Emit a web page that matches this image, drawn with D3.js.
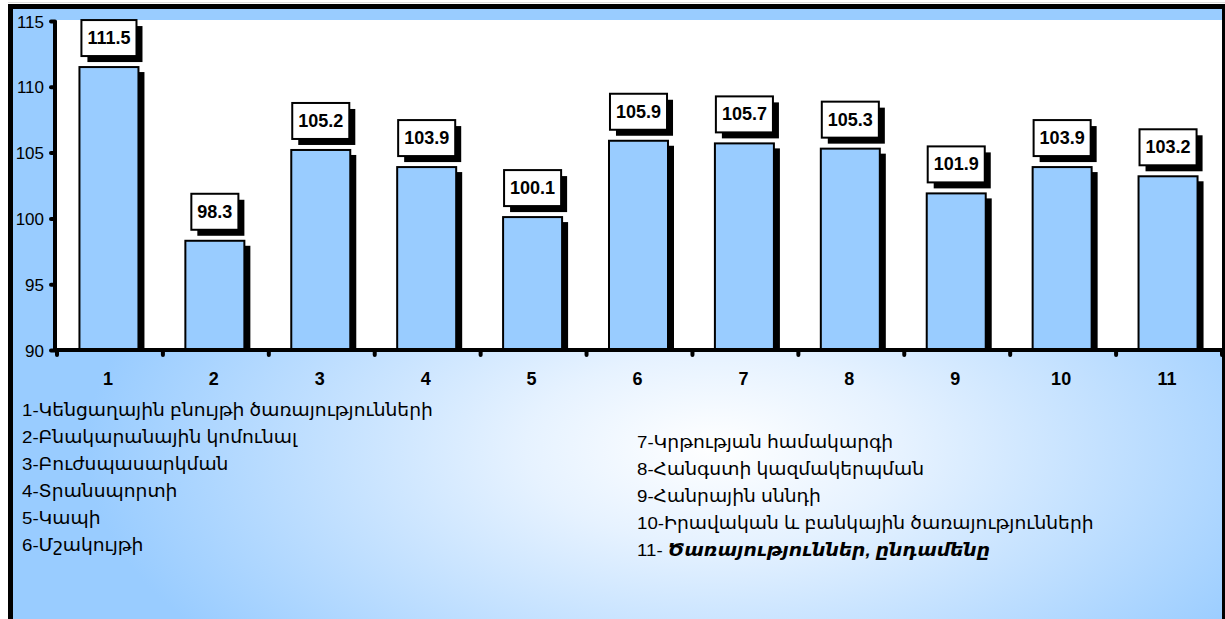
<!DOCTYPE html>
<html>
<head>
<meta charset="utf-8">
<script src="https://cdn.jsdelivr.net/npm/d3@7"></script>
<style>
  body { margin: 0; background: #fff; }
  svg { display: block; }
</style>
</head>
<body>
<div id="app"></div>
<script>
// data
const categories = ["1", "2", "3", "4", "5", "6", "7", "8", "9", "10", "11"];
const values = [111.5, 98.3, 105.2, 103.9, 100.1, 105.9, 105.7, 105.3, 101.9, 103.9, 103.2];
const yTicks = [90, 95, 100, 105, 110, 115];
const legendLeft = [
  "1-Կենցաղային բնույթի ծառայությունների",
  "2-Բնակարանային կոմունալ",
  "3-Բուժսպասարկման",
  "4-Տրանսպորտի",
  "5-Կապի",
  "6-Մշակույթի"
];
const legendRight = [
  "7-Կրթության համակարգի",
  "8-Հանգստի կազմակերպման",
  "9-Հանրային սննդի",
  "10-Իրավական և բանկային ծառայությունների"
];
const legendLastNum = "11- ";
const legendLastText = "Ծառայություններ, ընդամենը";

// sizing
const W = 1225, H = 619;
const plot = {left: 57, right: 1222, top: 20, bottom: 350};

const svg = d3.select("#app").append("svg")
    .attr("width", W)
    .attr("height", H);

const defs = svg.append("defs");
const grad = defs.append("radialGradient")
    .attr("id", "bg")
    .attr("cx", 0.58).attr("cy", 0.72).attr("r", 0.52);
grad.append("stop").attr("offset", "0%").attr("stop-color", "#ffffff");
grad.append("stop").attr("offset", "30%").attr("stop-color", "#e6f2ff");
grad.append("stop").attr("offset", "100%").attr("stop-color", "#99ccff");

// outer panel
svg.append("line")
    .attr("x1", 8).attr("x2", W).attr("y1", 2.5).attr("y2", 2.5)
    .attr("stroke", "#dddddd").attr("stroke-width", 1);
svg.append("rect")
    .attr("x", 8).attr("y", 4)
    .attr("width", W - 8).attr("height", H - 4)
    .attr("fill", "#000");
svg.append("rect")
    .attr("x", 13).attr("y", 9)
    .attr("width", 1222 - 13).attr("height", H - 9)
    .attr("fill", "url(#bg)");

// plot area
svg.append("rect")
    .attr("x", plot.left).attr("y", plot.top)
    .attr("width", plot.right - plot.left).attr("height", plot.bottom - plot.top)
    .attr("fill", "#fff");

// scales
const x = d3.scaleBand()
    .domain(categories)
    .range([plot.left, plot.right])
    .paddingInner(0)
    .paddingOuter(0);

const y = d3.scaleLinear()
    .domain([90, 115])
    .range([plot.bottom, 21]);

const barW = 59;
const shadow = 6;

// bar shadows
svg.append("g")
    .selectAll("rect")
    .data(values)
    .enter().append("rect")
        .attr("x", (d, i) => x(categories[i]) + x.bandwidth() / 2 - barW / 2 - 1 + shadow)
        .attr("y", d => y(d) + 5)
        .attr("width", barW)
        .attr("height", d => plot.bottom - y(d) - 5)
        .attr("fill", "#000");

// bars
svg.append("g")
    .selectAll("rect")
    .data(values)
    .enter().append("rect")
        .attr("x", (d, i) => x(categories[i]) + x.bandwidth() / 2 - barW / 2 - 1)
        .attr("y", d => y(d))
        .attr("width", barW)
        .attr("height", d => plot.bottom - y(d))
        .attr("fill", "#99ccff")
        .attr("stroke", "#000")
        .attr("stroke-width", 2);

// y axis
const yAxis = svg.append("g")
    .attr("transform", `translate(${plot.left - 2},0)`)
    .call(d3.axisLeft(y).tickValues(yTicks).tickSize(4).tickSizeOuter(0).tickFormat(d3.format("d")));
yAxis.select(".domain").attr("stroke", "#000").attr("stroke-width", 4)
    .attr("d", `M0,${y(115)}V${plot.bottom + 2}`);
yAxis.selectAll(".tick line").attr("stroke", "#000").attr("stroke-width", 4).attr("stroke-linecap", "round");
yAxis.selectAll(".tick text")
    .attr("x", -11)
    .attr("dy", "0.36em")
    .style("font-family", "Arial, 'Liberation Sans', sans-serif")
    .style("font-size", "17px")
    .attr("fill", "#000");

// x axis
const xAxis = svg.append("g")
    .attr("transform", `translate(0,${plot.bottom})`)
    .call(d3.axisBottom(x).tickSize(0));
xAxis.select(".domain").attr("stroke", "#000").attr("stroke-width", 4)
    .attr("d", `M${plot.left - 2},0H${plot.right}`);
xAxis.selectAll(".tick text")
    .attr("y", 35)
    .attr("dy", 0)
    .attr("dx", -2)
    .style("font-family", "Arial, 'Liberation Sans', sans-serif")
    .style("font-size", "18px")
    .style("font-weight", "bold")
    .attr("fill", "#000");

// x tick dots at category boundaries
const bounds = categories.map(c => x(c)).concat([plot.right]);
svg.append("g")
    .selectAll("line")
    .data(bounds)
    .enter().append("line")
        .attr("x1", d => d).attr("x2", d => d)
        .attr("y1", plot.bottom).attr("y2", plot.bottom + 5)
        .attr("stroke", "#000")
        .attr("stroke-width", 4)
        .attr("stroke-linecap", "round");

// value labels
const labels = svg.append("g")
    .selectAll("g")
    .data(values)
    .enter().append("g");

labels.each(function(d, i) {
    const g = d3.select(this);
    const cx = x(categories[i]) + x.bandwidth() / 2 - 1;
    const bottom = y(d) - 11;
    const t = g.append("text")
        .attr("x", cx)
        .attr("y", bottom - 12)
        .attr("text-anchor", "middle")
        .style("font-family", "Arial, 'Liberation Sans', sans-serif")
        .style("font-size", "18px")
        .style("font-weight", "bold")
        .text(d3.format(".1f")(d));
    const tw = t.node().getComputedTextLength();
    const bw = tw + 12, bh = 36;
    g.insert("rect", "text")
        .attr("x", cx - bw / 2 + shadow).attr("y", bottom - bh + shadow)
        .attr("width", bw).attr("height", bh)
        .attr("fill", "#000");
    g.insert("rect", "text")
        .attr("x", cx - bw / 2).attr("y", bottom - bh)
        .attr("width", bw).attr("height", bh)
        .attr("fill", "#fff")
        .attr("stroke", "#000")
        .attr("stroke-width", 2);
});

// legend text (armenian glyphs a bit wider in the original font)
const legFont = "Arial, 'DejaVu Sans', sans-serif";
const stretch = 1.1;
svg.append("g")
    .selectAll("text")
    .data(legendLeft)
    .enter().append("text")
        .attr("transform", (d, i) => `translate(22,${416 + i * 27}) scale(${stretch},1)`)
        .style("font-family", legFont)
        .style("font-size", "17px")
        .attr("fill", "#000")
        .text(d => d);

svg.append("g")
    .selectAll("text")
    .data(legendRight)
    .enter().append("text")
        .attr("transform", (d, i) => `translate(637,${448 + i * 27}) scale(${stretch},1)`)
        .style("font-family", legFont)
        .style("font-size", "17px")
        .attr("fill", "#000")
        .text(d => d);

const last = svg.append("text")
    .attr("transform", `translate(637,${448 + legendRight.length * 27}) scale(${stretch},1)`)
    .style("font-family", legFont)
    .style("font-size", "17px")
    .attr("fill", "#000");
last.append("tspan").text(legendLastNum);
last.append("tspan")
    .style("font-weight", "bold")
    .style("font-style", "italic")
    .text(legendLastText);
</script>
</body>
</html>
